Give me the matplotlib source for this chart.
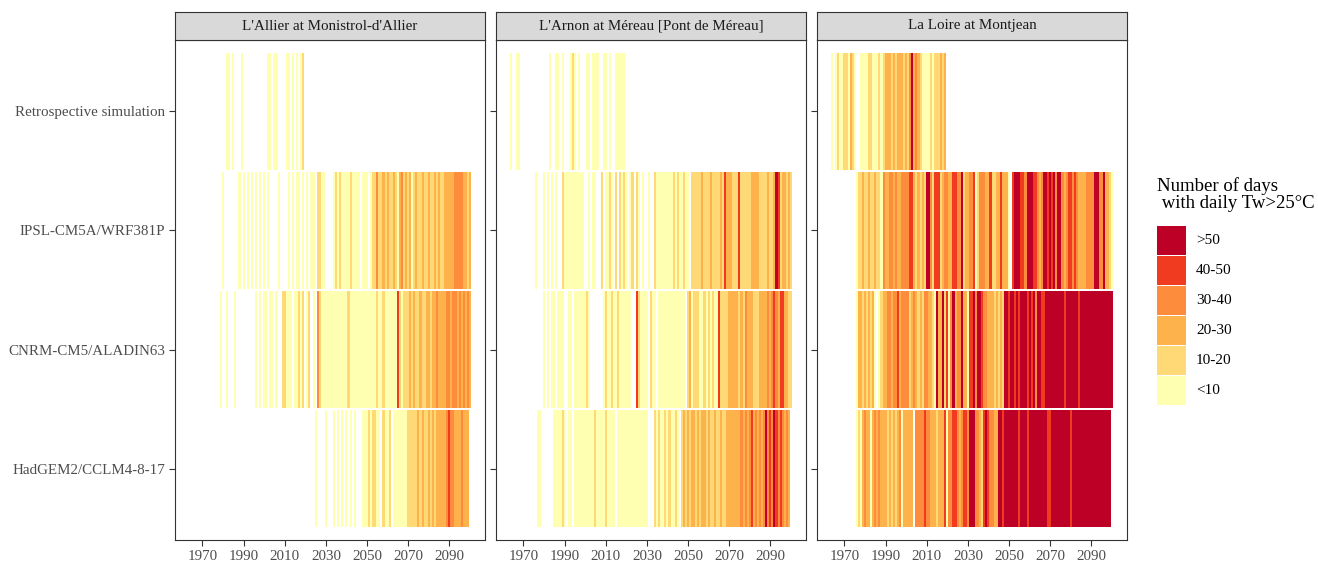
import matplotlib
matplotlib.use("Agg")
import matplotlib.pyplot as plt
import numpy as np
from matplotlib.colors import ListedColormap, BoundaryNorm
from matplotlib.patches import Rectangle

plt.rcParams['font.family'] = ['Liberation Serif', 'DejaVu Serif']

W, H = 1318, 567

FIRST_YEAR = 1964
LAST_YEAR = 2100
YEARS = np.arange(FIRST_YEAR, LAST_YEAR + 1)
TICK_YEARS = [1970, 1990, 2010, 2030, 2050, 2070, 2090]

STATIONS = ["L'Allier at Monistrol-d'Allier",
            "L'Arnon at Méreau [Pont de Méreau]",
            "La Loire at Montjean"]
SIMULATIONS = ["Retrospective simulation", "IPSL-CM5A/WRF381P",
               "CNRM-CM5/ALADIN63", "HadGEM2/CCLM4-8-17"]
CLASSES = ["<10", "10-20", "20-30", "30-40", "40-50", ">50"]
CLASS_COLORS = ["#FFFFB2", "#FED976", "#FEB24C", "#FD8D3C", "#F03B20", "#BD0026"]

# one code per year, 1964 .. 2100 ('.' = no day, 0..5 = class index)
BLANK_AFTER_2019 = "." * 81

ALLIER_RETRO = ("...... .......... ..00.0...0 .......... ..00.00... .00.0.0.01 "
                + BLANK_AFTER_2019)
ALLIER_IPSL = ("...... .......... 0.......0. 0.0.0.0.0. 0.0....0.. ..0.0.00.0 "
               ".0.00.1100 ....010100 0010000.00 0.01131121 2112102312 "
               "1201211211 2112121122 2223333221 2")
ALLIER_CNRM = ("...... .........0 ..0...0... ......0.0. 00.00.0..1 1000.00101 "
               ".01.0.3100 0000000000 0100000000 0000010010 0000041011 "
               "1212112112 2122322223 3233232323 2")
ALLIER_HADGEM = ("...... .......... .......... .......... .......... .......... "
                 ".....0.... 0...0.0.0. 0.0.0...00 0101100.10 01.0000000 "
                 "1111121211 2121222223 4332223222 .")

ARNON_RETRO = ("0..00. .......... ...0..00.0 ...010.0.. .00.000..0 0.0..00000 "
               + BLANK_AFTER_2019)
ARNON_IPSL = ("...... ......0... 0.0.0.0..1 0000000000 ..0.00..1. 0010.1.101 "
              "0.01.10.0. .0..100000 0001010010 0.11111211 1211112142 "
              "2211141111 1222211112 1125412212 1")
ARNON_CNRM = ("...... .......... 0.0.00.000 ..00.00000 010......0 1001001000 "
              "000..41000 0.100.0000 000000000. 1201110010 1010041111 "
              "2222212132 2211122223 2343244221 1")
ARNON_HADGEM = ("...... .......00. .....00001 0.00.00000 0000010000 10000.0000 "
                "0000000000 0...101001 010010.121 2122121221 2112112112 "
                "2222223232 3423232353 4354343232 .")

LOIRE_RETRO = ("0.0100 110210..00 0011000101 2221212221 2135232100 0010111212 "
               + BLANK_AFTER_2019)
LOIRE_IPSL = ("...... ......0112 1121121103 2233232233 3344212121 5531444123 "
              "3224433512 2334013332 2411224222 0.45554435 5544323554 "
              "5453553234 4343222233 3355335221 0")
LOIRE_CNRM = ("...... ......0221 212120.012 2332334233 3312321213 3221052251 "
              "4035233522 0445355433 2221212155 4554545554 5453554455 "
              "5555555455 5555455555 5555555555 5")
LOIRE_HADGEM = ("...... ......0102 3220232322 2121212302 2222.33334 3322212224 "
                "0334432344 3555332145 4332255455 5555545554 5555555554 "
                "4555555555 4555555555 5555555555 .")

ROWS = {
    STATIONS[0]: [ALLIER_RETRO, ALLIER_IPSL, ALLIER_CNRM, ALLIER_HADGEM],
    STATIONS[1]: [ARNON_RETRO, ARNON_IPSL, ARNON_CNRM, ARNON_HADGEM],
    STATIONS[2]: [LOIRE_RETRO, LOIRE_IPSL, LOIRE_CNRM, LOIRE_HADGEM],
}


def decode(codes):
    s = "".join(codes.split())
    return np.array([np.nan if c == "." else float(c) for c in s])


cmap = ListedColormap(CLASS_COLORS)
norm = BoundaryNorm(np.arange(-0.5, len(CLASSES) + 0.5, 1), len(CLASSES))
edges = np.append(YEARS - 0.5, YEARS[-1] + 0.5)

fig = plt.figure(figsize=(W / 100, H / 100), dpi=100)

PANEL_LEFT = [175, 496, 817]
PANEL_W = 310
PANEL_TOP = 40
PANEL_BOTTOM = 540
STRIP_TOP = 12
AX_COLOR = "#333333"

for i, station in enumerate(STATIONS):
    ax = fig.add_axes([PANEL_LEFT[i] / W, 1 - PANEL_BOTTOM / H,
                       PANEL_W / W, (PANEL_BOTTOM - PANEL_TOP) / H])
    n = len(SIMULATIONS)
    for r, codes in enumerate(ROWS[station]):
        vals = np.ma.masked_invalid(decode(codes))
        ypos = n - r
        ax.pcolormesh(edges, [ypos - 0.49, ypos + 0.49], vals[np.newaxis, :],
                      cmap=cmap, norm=norm, shading='flat', antialiased=False)
    ax.set_xlim(1956.65, 2107.35)
    ax.set_ylim(0.4, n + 0.6)
    ax.set_xticks(TICK_YEARS)
    ax.set_yticks(np.arange(n, 0, -1))
    if i == 0:
        ax.set_yticklabels(SIMULATIONS)
    else:
        ax.set_yticklabels([])
    ax.tick_params(direction='out', length=4, width=0.8, color=AX_COLOR,
                   labelcolor="#4D4D4D", labelsize=10.8, pad=3)
    for sp in ax.spines.values():
        sp.set_color(AX_COLOR)
        sp.set_linewidth(0.8)

    sax = fig.add_axes([PANEL_LEFT[i] / W, 1 - PANEL_TOP / H,
                        PANEL_W / W, (PANEL_TOP - STRIP_TOP) / H])
    sax.set_facecolor("#D9D9D9")
    sax.set_xticks([])
    sax.set_yticks([])
    for sp in sax.spines.values():
        sp.set_color(AX_COLOR)
        sp.set_linewidth(0.8)
    sax.text(0.5, 0.5, station, ha='center', va='center', fontsize=10.8,
             color="#1A1A1A", transform=sax.transAxes)

# legend
fig.text(1157 / W, 1 - 177 / H, "Number of days\n with daily Tw>25°C",
         ha='left', va='top', fontsize=13.5, linespacing=1.0, color="black")
KEY_TOP = 226
KEY_SIZE = 29
KEY_STEP = 30
for k, (label, color) in enumerate(reversed(list(zip(CLASSES, CLASS_COLORS)))):
    top = KEY_TOP + KEY_STEP * k
    fig.add_artist(Rectangle((1157 / W, 1 - (top + KEY_SIZE) / H),
                             KEY_SIZE / W, KEY_SIZE / H,
                             transform=fig.transFigure, facecolor=color,
                             edgecolor='none'))
    fig.text(1196 / W, 1 - (top + KEY_SIZE / 2) / H, label, ha='left',
             va='center', fontsize=11, color="black")

fig.savefig("out.png", dpi=100)
